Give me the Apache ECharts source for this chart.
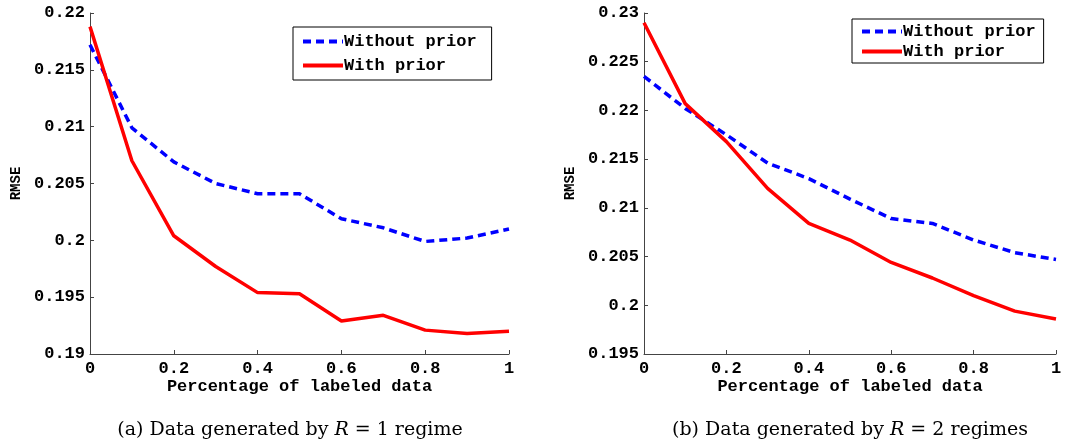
<!DOCTYPE html>
<html>
<head>
  <meta charset="utf-8">
  <script src="https://cdn.jsdelivr.net/npm/echarts@6/dist/echarts.min.js"></script>
  <title>RMSE vs labeled data</title>
  <style>
    html, body { margin: 0; padding: 0; background: #fff; }
    #chart { width: 1071px; height: 444px; }
  </style>
</head>
<body>
  <div id="chart"></div>
  <script>
    // percentage of labeled data
    const xValues = [0, 0.1, 0.2, 0.3, 0.4, 0.5, 0.6, 0.7, 0.8, 0.9, 1];

    // (a) R = 1 regime
    const withoutPriorA = [0.2172, 0.2099, 0.2069, 0.2050, 0.2041, 0.2041, 0.2019, 0.2011, 0.1999, 0.2002, 0.2010];
    const withPriorA = [0.2188, 0.2070, 0.2004, 0.1977, 0.1954, 0.1953, 0.1929, 0.1934, 0.1921, 0.1918, 0.1920];

    // (b) R = 2 regimes
    const withoutPriorB = [0.2235, 0.2202, 0.2175, 0.2146, 0.2130, 0.2109, 0.2089, 0.2084, 0.2067, 0.2054, 0.2047];
    const withPriorB = [0.2290, 0.2207, 0.2168, 0.2120, 0.2084, 0.2067, 0.2044, 0.2028, 0.2010, 0.1994, 0.1986];

    const seriesNames = ["Without prior", "With prior"];
    const yRangeA = [0.19, 0.22];
    const yRangeB = [0.195, 0.23];
    const captions = [
      "(a) Data generated by {i|R} = 1 regime",
      "(b) Data generated by {i|R} = 2 regimes",
    ];

    const mono = "'Liberation Mono', 'DejaVu Sans Mono', monospace";
    const serif = "'DejaVu Serif', 'Liberation Serif', serif";

    const pairs = (ys) => xValues.map((x, i) => [x, ys[i]]);
    const fmt = (v) => String(parseFloat(v.toFixed(3)));

    function xAxisFor(gridIndex) {
      return {
        type: "value",
        gridIndex,
        min: 0,
        max: 1,
        interval: 0.2,
        name: "Percentage of labeled data",
        nameLocation: "middle",
        nameGap: 24,
        nameMoveOverlap: false,
        nameTextStyle: { fontFamily: mono, fontSize: 17, fontWeight: "bold", color: "#000" },
        axisLine: { lineStyle: { color: "#444", width: 1 } },
        axisTick: { inside: true, length: 4, lineStyle: { color: "#444" } },
        axisLabel: { fontFamily: mono, fontSize: 17, fontWeight: "bold", color: "#000", margin: 6, formatter: fmt },
        splitLine: { show: false },
      };
    }

    function yAxisFor(gridIndex, range) {
      return {
        type: "value",
        gridIndex,
        min: range[0],
        max: range[1],
        interval: 0.005,
        name: "RMSE",
        nameLocation: "middle",
        nameGap: 67,
        nameMoveOverlap: false,
        nameTextStyle: { fontFamily: mono, fontSize: 14, fontWeight: "bold", color: "#000" },
        axisLine: { show: true, lineStyle: { color: "#444", width: 1 } },
        axisTick: { show: true, inside: true, length: 4, lineStyle: { color: "#444" } },
        axisLabel: { fontFamily: mono, fontSize: 17, fontWeight: "bold", color: "#000", margin: 5, formatter: fmt },
        splitLine: { show: false },
      };
    }

    function lineSeries(name, data, idx, dashed) {
      return {
        name,
        type: "line",
        xAxisIndex: idx,
        yAxisIndex: idx,
        data: pairs(data),
        showSymbol: false,
        symbol: "none",
        color: dashed ? "#0000ff" : "#ff0000",
        lineStyle: dashed
          ? { color: "#0000ff", width: 3.5, type: [8, 5] }
          : { color: "#ff0000", width: 3.5 },
        z: dashed ? 2 : 3,
      };
    }

    const legendBase = {
      orient: "vertical",
      data: seriesNames,
      backgroundColor: "#fff",
      borderColor: "#000",
      borderWidth: 1,
      borderRadius: 0,
      itemWidth: 40,
      itemHeight: 14,
      itemStyle: { opacity: 0 },
      lineStyle: { width: 4 },
      textStyle: { fontFamily: mono, fontSize: 17, lineHeight: 17, fontWeight: "bold", color: "#000", padding: [0, 0, 0, -4] },
      selectedMode: false,
    };

    const chart = echarts.init(document.getElementById("chart"), null, { renderer: "canvas" });

    chart.setOption({
      animation: false,
      backgroundColor: "#fff",
      grid: [
        { left: 90, top: 13, width: 419, height: 341 },
        { left: 644, top: 13, width: 412, height: 341 },
      ],
      xAxis: [xAxisFor(0), xAxisFor(1)],
      yAxis: [yAxisFor(0, yRangeA), yAxisFor(1, yRangeB)],
      legend: [
        Object.assign({}, legendBase, { left: 293, top: 27, padding: [6, 15, 6, 8], itemGap: 7 }),
        Object.assign({}, legendBase, { left: 852, top: 19, padding: [4, 8, 3, 8], itemGap: 3 }),
      ],
      title: captions.map((text, i) => ({
        text,
        left: i === 0 ? 285 : 845,
        top: 416,
        textAlign: "center",
        textStyle: {
          fontFamily: serif,
          fontSize: 19,
          fontWeight: "normal",
          color: "#000",
          rich: { i: { fontFamily: serif, fontSize: 19, fontStyle: "italic", color: "#000" } },
        },
      })),
      series: [
        lineSeries(seriesNames[0], withoutPriorA, 0, true),
        lineSeries(seriesNames[1], withPriorA, 0, false),
        lineSeries(seriesNames[0], withoutPriorB, 1, true),
        lineSeries(seriesNames[1], withPriorB, 1, false),
      ],
    });
  </script>
</body>
</html>
